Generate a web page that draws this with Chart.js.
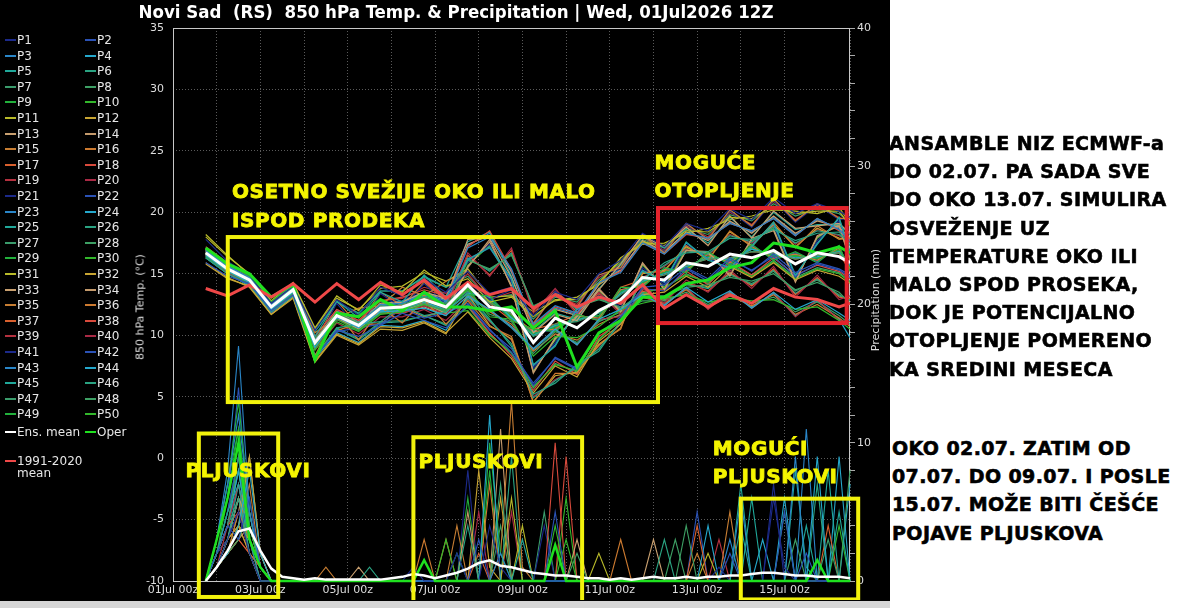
<!DOCTYPE html>
<html><head><meta charset="utf-8">
<script src="https://cdn.jsdelivr.net/npm/chart.js@4.4.1/dist/chart.umd.min.js"></script>
<style>
html,body{margin:0;padding:0;background:#fff;width:1200px;height:608px;overflow:hidden;}
#fig{position:absolute;left:0;top:0;width:890px;height:601px;background:#000;}
#c{position:absolute;left:0;top:0;}
#strip{position:absolute;left:0;top:601px;width:890px;height:7px;background:#d6d6d6;}
#title{position:absolute;left:456px;top:2px;transform:translateX(-50%);color:#fff;font-family:'DejaVu Sans Condensed','DejaVu Sans';font-weight:bold;font-size:18.5px;line-height:20px;white-space:pre;}
.lg{position:absolute;font-family:'DejaVu Sans';font-size:12px;color:#e6e6e6;white-space:nowrap;line-height:12px}
.sw{position:absolute;height:2px;width:11px}
.note{position:absolute;font-family:'DejaVu Sans';font-weight:bold;font-size:19px;letter-spacing:0.4px;-webkit-text-stroke:0.6px #000;color:#000;line-height:28.2px;white-space:nowrap}
.ax{position:absolute;color:#ddd;font-family:'DejaVu Sans';font-size:11px;white-space:nowrap;transform:translate(-50%,-50%) rotate(-90deg);}
</style></head>
<body>
<div id="fig"><canvas id="c" width="890" height="600"></canvas></div>
<div id="strip"></div>
<div id="title">Novi Sad  (RS)  850 hPa Temp. &amp; Precipitation | Wed, 01Jul2026 12Z</div>
<div class="ax" style="left:140px;top:307px">850 hPa Temp. (°C)</div>
<div class="ax" style="left:875px;top:300px">Precipitation (mm)</div>
<div id="legend"></div>
<div class="note" style="left:889px;top:129px">ANSAMBLE NIZ ECMWF-a<br>DO 02.07. PA SADA SVE<br>DO OKO 13.07. SIMULIRA<br>OSVEŽENJE UZ<br>TEMPERATURE OKO ILI<br>MALO SPOD PROSEKA,<br>DOK JE POTENCIJALNO<br>OTOPLJENJE POMERENO<br>KA SREDINI MESECA</div>
<div class="note" style="left:892px;top:434px">OKO 02.07. ZATIM OD<br>07.07. DO 09.07. I POSLE<br>15.07. MOŽE BITI ČEŠĆE<br>POJAVE PLJUSKOVA</div>
<script>
// ---- time grids (hours since 01Jul 00z) ----
const H12 = [18,30,42,54,66,78,90,102,114,126,138,150,162,174,186,198,210,222,234,246,258,270,282,294,306,318,330,342,354,366,372];
const H6 = [18,24,30,36,42,48,54,60,66,72, 78,84,90,96,102,108,114,120,126,132, 138,144,150,156,162,168,174,180,186,192, 198,204,210,216,222,228,234,240,246,252, 258,264,270,276,282,288,294,300,306,312, 318,324,330,336,342,348,354,360,366,372];

// ---- 850 hPa temperature (°C), 12-hourly ----
const ensMeanT = [16.7,15.4,14.5,12.3,13.7,9.4,11.6,10.8,12.2,12.3,12.9,12.3,14.1,12.3,12.0,9.4,11.4,10.6,12.0,12.9,14.7,14.5,15.9,15.6,16.6,16.3,16.9,15.8,16.7,16.4,15.9];
const operT = [17.1,15.8,15.0,13.1,14.1,8.0,11.8,11.5,12.9,12.0,13.5,12.3,12.3,12.0,12.3,10.6,12.0,7.4,10.2,11.2,13.1,13.1,14.2,14.5,15.5,15.9,17.5,17.2,16.7,17.2,16.7];
const climT = [13.8,13.2,14.1,13.1,14.2,12.7,14.2,12.9,14.3,13.3,14.5,13.0,14.3,13.3,13.8,12.2,13.3,12.3,13.1,12.6,14.1,12.2,13.3,12.3,13.3,12.6,13.8,13.1,12.9,12.3,12.6];

const P1  = [17.8,16.0,14.9,12.6,14.0,10.4,12.9,11.6,13.9,13.2,14.6,13.5,15.2,13.4,13.9,11.6,13.5,12.9,15.0,16.1,18.3,17.2,19.1,18.5,20.3,19.4,21.2,19.9,20.7,20.1,19.6];
const P2  = [15.9,14.8,14.2,12.0,13.3,8.2,10.4,9.9,10.8,11.8,11.2,10.6,12.5,10.4,8.9,5.9,8.2,7.3,10.1,11.5,13.9,14.1,15.5,14.6,16.3,15.2,16.6,15.1,15.9,15.4,14.9];
const P3  = [16.9,15.6,14.7,12.5,14.1,9.6,11.4,10.9,12.5,12.6,13.4,12.8,17.1,18.0,15.4,10.9,12.4,11.8,14.3,15.1,17.5,16.6,18.3,17.9,19.1,18.5,19.5,18.1,19.5,18.6,17.7];
const P4  = [16.5,15.2,14.3,12.1,13.5,9.0,11.5,10.6,11.9,12.0,12.2,11.6,13.2,12.1,10.7,8.9,10.5,9.2,11.3,12.1,13.3,12.4,13.9,12.7,13.6,12.2,13.5,12.1,12.9,11.8,11.2];
const P5  = [17.0,15.7,14.6,12.4,13.9,9.9,12.8,11.4,13.5,12.7,14.9,13.1,16.1,17.2,14.6,7.6,9.1,12.2,13.1,12.6,15.2,14.4,17.6,16.1,15.5,17.2,19.2,14.9,17.4,19.6,16.8];
const P6  = [16.3,15.0,14.1,11.9,13.2,8.1,10.6,10.9,11.1,12.4,11.6,11.9,13.4,11.3,9.1,5.2,6.1,7.6,8.7,11.2,14.5,15.9,16.7,16.8,17.9,17.8,18.6,17.7,18.3,18.4,17.3];
const P7  = [16.8,15.5,14.6,12.2,13.8,9.3,11.7,10.7,12.3,12.5,13.1,12.6,13.9,12.6,11.8,9.9,10.9,11.1,11.8,13.3,14.5,14.9,15.7,16.2,16.3,16.8,16.7,16.2,16.5,16.7,15.8];
const P8  = [16.6,15.3,14.4,12.3,13.6,9.5,11.8,11.0,12.4,12.1,12.6,11.9,16.1,15.4,16.5,12.4,13.2,12.3,12.9,12.3,13.2,13.2,13.9,14.1,14.7,14.4,15.0,13.7,14.3,13.5,12.6];
const P9  = [17.1,15.9,14.8,12.7,14.2,9.1,11.3,10.4,11.8,12.2,12.8,12.5,13.3,13.2,11.2,10.5,10.3,11.7,11.2,13.9,13.9,15.5,15.1,16.8,15.7,17.4,16.1,16.8,15.9,17.3,15.2];
const P10 = [16.4,15.2,14.2,12.1,13.4,8.8,11.1,10.3,11.7,11.9,12.5,12.0,13.8,11.5,11.3,8.3,9.9,9.8,10.7,12.1,12.6,13.0,13.3,12.7,13.0,12.8,12.9,12.1,12.3,11.2,10.5];
const P11 = [18.0,16.4,15.0,12.8,14.3,10.6,13.2,12.0,14.1,13.5,15.3,14.0,14.6,12.7,13.1,11.5,12.9,12.9,14.3,16.1,17.6,17.3,18.5,18.4,19.6,19.5,20.5,19.9,20.1,20.1,18.9];
const P12 = [15.8,14.6,14.0,11.7,13.1,7.9,10.1,9.3,10.7,10.6,11.1,10.2,11.9,9.8,8.1,5.3,7.5,6.6,9.5,10.9,13.3,13.5,14.8,13.9,15.6,14.7,15.9,14.5,15.3,14.8,14.2];
const P13 = [16.9,15.6,14.6,12.4,13.8,9.6,11.9,11.0,12.5,12.7,13.5,13.0,17.8,17.9,14.7,10.2,11.7,11.2,13.7,15.8,18.1,17.2,18.8,17.3,19.7,17.9,20.1,18.7,18.9,19.1,18.3];
const P14 = [16.7,15.4,14.4,12.2,13.6,9.2,11.4,10.5,11.9,12.0,12.6,11.8,15.5,17.8,13.9,6.9,9.8,11.5,13.8,11.9,15.9,13.7,16.9,16.8,14.8,17.9,18.5,14.3,18.1,18.9,16.1];
const P15 = [17.0,15.6,14.7,12.5,14.0,10.2,11.4,12.2,12.4,13.9,13.2,14.4,15.2,13.3,13.7,10.9,13.5,12.3,14.9,15.5,18.2,16.7,19.1,17.8,20.2,18.9,21.1,19.3,20.7,19.5,19.5];
const P16 = [16.6,15.3,14.3,12.0,13.4,8.3,11.9,9.6,12.3,11.0,12.9,10.9,12.8,10.7,9.9,4.5,6.9,6.9,9.3,10.5,15.1,15.2,17.3,16.1,18.5,17.2,19.2,17.1,18.9,17.8,17.9];
const P17 = [16.8,15.5,14.5,12.3,13.7,9.4,11.7,10.9,12.3,12.4,13.0,12.4,13.9,12.6,11.2,10.5,10.9,11.7,11.2,13.9,14.5,14.9,15.7,16.2,16.3,16.8,16.7,16.2,16.5,16.7,15.2];
const P18 = [17.2,15.9,14.8,12.6,14.1,9.9,12.1,11.2,12.8,13.1,13.7,13.2,17.2,18.5,15.3,10.8,12.3,11.8,14.3,15.2,17.5,16.6,18.2,17.9,19.1,18.5,19.5,18.1,19.5,18.5,17.7];
const P19 = [16.5,15.1,14.2,12.0,13.3,8.9,11.3,10.4,11.8,11.8,12.4,11.7,13.2,12.1,10.7,8.9,10.5,9.2,11.3,11.5,13.2,12.4,13.9,12.1,13.6,12.2,13.5,11.5,12.9,11.2,11.1];
const P20 = [16.9,15.6,14.6,12.4,13.9,9.5,11.8,10.8,12.2,12.3,13.0,12.2,16.7,14.8,17.1,11.8,13.8,11.7,13.5,11.7,13.8,12.6,14.5,13.5,15.3,13.8,15.6,13.1,14.9,12.9,13.2];
const P21 = [17.0,15.7,14.7,12.5,14.0,9.3,12.6,10.5,13.4,12.2,14.2,12.5,14.3,12.9,13.7,10.8,13.6,12.2,14.9,15.4,18.2,16.8,19.0,17.8,20.1,18.8,21.0,19.2,20.6,19.4,19.5];
const P22 = [16.4,15.0,14.1,11.8,13.2,8.4,10.3,10.6,10.9,12.2,11.4,11.8,12.6,10.5,8.6,6.1,8.1,7.2,10.2,11.1,13.8,13.6,15.4,14.4,16.1,15.3,16.4,14.8,15.8,15.3,14.7];
const P23 = [16.8,15.5,14.6,12.4,13.8,9.5,11.6,10.9,12.4,12.6,13.3,12.7,16.2,17.1,14.5,7.5,9.2,12.1,13.2,12.5,15.3,14.3,17.5,16.2,15.4,17.3,19.1,14.8,17.5,19.5,16.7];
const P24 = [16.6,15.2,14.3,12.1,13.5,9.1,11.4,10.6,12.0,12.1,12.7,12.0,13.4,13.1,11.4,10.0,10.8,11.2,11.8,13.4,14.4,15.0,15.6,16.3,16.2,17.0,16.6,16.3,16.4,16.8,15.7];
const P25 = [17.1,15.8,14.8,12.6,14.1,10.3,12.7,11.8,13.6,13.6,14.8,13.9,17.6,18.4,14.8,10.3,11.8,11.3,13.8,15.7,18.0,17.1,18.6,17.5,19.6,18.0,20.0,18.6,19.0,19.0,18.2];
const P26 = [16.3,15.0,14.1,11.9,13.2,8.2,10.5,9.6,11.0,11.1,11.6,10.8,13.0,11.2,9.3,4.9,6.3,7.4,8.9,11.0,14.6,15.7,16.9,16.6,18.1,17.6,18.8,17.5,18.5,18.2,17.5];
const P27 = [16.8,15.5,14.5,12.3,13.7,9.3,11.6,10.8,12.2,12.3,12.9,12.4,16.2,15.3,16.6,12.2,13.3,12.2,13.0,12.1,13.4,13.0,14.1,13.9,14.9,14.2,15.2,13.6,14.5,13.3,12.8];
const P28 = [16.7,15.3,14.4,12.2,13.6,9.2,11.5,10.7,12.1,12.2,12.8,12.2,13.6,11.7,11.1,8.5,10.3,9.4,11.1,11.9,12.8,12.8,13.5,12.5,13.4,12.6,13.1,11.9,12.7,11.6,10.9];
const P29 = [17.0,15.6,14.6,12.4,13.9,9.7,11.9,11.0,12.5,12.6,13.3,12.7,13.7,12.8,11.6,10.1,10.7,11.3,11.6,13.5,14.3,15.1,15.5,16.4,16.1,17.0,16.5,16.4,16.3,16.9,15.6];
const P30 = [16.5,15.2,14.3,12.1,13.4,9.0,11.3,10.4,11.8,11.9,12.5,11.8,12.0,10.0,8.6,5.8,7.6,7.1,9.6,11.3,13.4,13.9,14.9,14.3,15.7,14.8,16.0,14.6,15.4,15.0,14.3];
const P31 = [18.2,16.5,14.9,12.7,14.2,10.5,13.0,12.1,13.8,14.0,15.1,14.4,15.4,13.1,13.2,11.9,12.8,13.1,14.1,16.3,17.4,17.5,18.3,18.7,19.4,19.7,20.2,20.1,19.9,20.4,19.1];
const P32 = [15.9,14.7,13.9,11.7,13.0,7.8,10.0,9.2,10.5,10.4,11.0,10.1,13.3,10.8,9.7,4.6,6.7,7.0,9.2,10.6,15.0,15.3,17.2,16.2,18.4,17.3,19.0,17.2,18.7,17.9,17.8];
const P33 = [16.9,15.6,14.6,12.5,13.9,9.6,11.8,11.0,12.6,12.7,13.4,12.9,17.4,18.1,15.2,10.6,12.1,11.6,14.1,15.3,17.7,16.8,18.4,17.7,19.3,18.3,19.7,18.3,19.3,18.8,17.9];
const P34 = [16.6,15.3,14.3,12.1,13.5,9.1,11.3,10.5,11.8,11.8,12.3,11.6,15.6,17.6,14.0,7.0,9.7,11.6,13.7,12.0,15.8,13.8,16.9,16.7,14.9,17.8,18.6,14.4,18.0,19.0,16.2];
const P35 = [17.0,15.7,14.7,12.5,14.0,9.4,12.8,10.8,13.5,12.4,14.3,12.8,14.0,12.7,11.7,10.3,10.5,11.6,11.4,13.7,14.1,15.3,15.3,16.6,15.9,17.2,16.3,16.6,16.1,17.1,15.4];
const P36 = [16.4,15.1,14.2,12.0,13.3,8.4,10.4,10.9,10.9,12.3,11.5,12.0,13.4,11.9,10.9,8.7,10.1,9.6,10.9,11.7,13.1,12.6,13.7,12.3,13.2,12.4,13.3,11.7,12.5,11.4,10.7];
const P37 = [16.8,15.4,14.5,12.3,13.7,9.4,11.7,10.8,12.3,12.4,13.1,12.5,16.5,14.9,16.9,12.0,13.6,11.9,13.4,11.9,13.6,12.8,14.3,13.6,15.1,14.0,15.4,13.3,14.7,13.1,13.0];
const P38 = [16.7,15.3,14.4,12.2,13.6,9.3,11.5,10.6,12.0,12.1,12.6,12.0,12.4,10.2,8.3,5.5,7.9,6.8,9.9,11.1,13.7,13.7,15.2,14.1,16.0,14.9,16.3,14.9,15.7,15.2,14.6];
const P39 = [17.1,15.8,14.8,12.6,14.1,9.9,12.1,11.2,12.8,13.0,13.9,13.4,15.0,12.9,13.5,11.0,13.3,12.5,14.7,15.7,18.0,16.9,18.9,18.0,20.0,19.0,20.9,19.4,20.5,19.6,19.3];
const P40 = [16.5,15.1,14.2,11.9,13.3,8.8,11.0,10.1,11.5,11.5,12.1,11.2,12.9,11.1,9.6,5.0,6.4,7.3,9.1,10.9,14.7,15.6,17.0,16.5,18.2,17.5,18.9,17.4,18.6,18.1,17.6];
const P41 = [16.9,15.6,14.6,12.4,13.8,9.9,11.2,11.6,12.0,13.2,12.8,13.5,15.9,17.4,14.3,7.3,9.4,11.9,13.4,12.3,15.5,14.1,17.3,16.4,15.2,17.5,18.9,14.7,17.7,19.3,16.5];
const P42 = [16.6,15.2,14.3,12.1,13.5,9.1,11.4,10.5,11.9,12.0,12.5,11.9,13.5,13.0,11.3,10.3,10.4,11.6,11.3,13.7,14.0,15.4,15.2,16.7,15.8,17.3,16.2,16.7,16.0,17.2,15.3];
const P43 = [17.0,15.7,14.7,12.5,14.0,9.7,12.0,11.1,12.6,12.8,13.5,13.0,17.3,18.3,15.1,10.7,12.2,11.7,14.2,15.4,17.6,16.7,18.3,17.8,19.2,18.4,19.6,18.2,19.4,18.7,17.8];
const P44 = [16.3,15.0,14.0,11.8,13.1,8.1,10.2,9.4,10.8,10.7,11.2,10.4,13.1,12.0,10.6,8.8,10.4,9.3,11.2,11.6,13.2,12.5,13.8,12.2,13.5,12.3,13.4,11.6,12.8,11.3,9.8];
const P45 = [16.8,15.5,14.5,12.3,13.7,9.4,11.7,10.8,12.3,12.5,13.2,12.6,16.3,15.2,16.7,12.3,13.4,12.1,13.1,12.2,13.5,12.9,14.2,13.8,15.0,14.1,15.3,13.4,14.6,13.2,12.9];
const P46 = [16.7,15.4,14.4,12.2,13.6,9.2,11.5,10.6,12.0,12.1,12.7,12.1,13.8,12.8,11.4,10.2,10.7,11.3,11.6,13.5,14.3,15.1,15.5,16.4,16.1,17.0,16.5,16.4,16.3,16.9,15.6];
const P47 = [17.1,15.8,14.8,12.6,14.1,10.4,12.7,11.7,13.6,13.6,14.7,13.9,14.8,13.0,13.3,11.3,13.1,12.7,14.5,15.9,17.8,17.1,18.7,18.2,19.8,19.3,20.7,19.7,20.3,19.9,19.1];
const P48 = [16.4,15.1,14.2,12.0,13.3,8.3,10.6,9.7,11.1,11.2,11.6,10.9,12.3,10.1,8.5,5.7,7.7,7.0,9.7,11.2,13.5,13.8,15.0,14.2,15.8,14.9,16.1,14.7,15.5,15.1,14.4];
const P49 = [16.9,15.5,14.5,12.3,13.8,9.5,11.7,10.9,12.4,12.5,13.1,12.5,13.6,12.9,11.5,10.2,10.6,11.4,11.5,13.6,14.2,15.2,15.4,16.5,16.0,17.1,16.4,16.5,16.2,17.0,15.5];
const P50 = [16.6,15.3,14.4,12.2,13.5,9.1,11.4,10.6,12.0,12.1,12.7,12.0,15.7,17.3,14.1,7.1,9.6,11.7,13.6,12.1,15.7,13.9,17.1,16.6,15.0,17.7,18.7,14.5,17.9,19.1,16.3];
const memberT = [P1,P2,P3,P4,P5,P6,P7,P8,P9,P10,P11,P12,P13,P14,P15,P16,P17,P18,P19,P20,P21,P22,P23,P24,P25,P26,P27,P28,P29,P30,P31,P32,P33,P34,P35,P36,P37,P38,P39,P40,P41,P42,P43,P44,P45,P46,P47,P48,P49,P50];

// ---- 6-hourly precipitation (mm) ----
const ensMeanP = [0,1.0,2.2,3.6,3.8,2.2,0.9,0.3,0.2,0.1, 0.2,0.1,0.1,0.1,0.1,0.1,0.1,0.2,0.3,0.5, 0.4,0.2,0.4,0.6,0.9,1.3,1.5,1.1,1.0,0.8, 0.6,0.5,0.4,0.4,0.3,0.2,0.2,0.1,0.2,0.1, 0.2,0.3,0.2,0.2,0.3,0.2,0.3,0.3,0.4,0.4, 0.5,0.6,0.6,0.5,0.4,0.4,0.3,0.3,0.3,0.2];
const operP = [0,3,6,10,3,1,0,0,0,0, 0,0,0,0,0,0,0,0,0,0, 1.5,0,0,0,0,0,0,0,0,0, 0,0,2.6,0,0,0,0,0,0,0, 0,0,0,0,0,0,0,0,0,0, 0,0,0,0,0,0,1.5,0,0,0];
const R1  = [0,1,3,5,2,0,0,0,0,0, 0,0,0,0,0,0,0,0,0,1, 0,0,0,2,0,0,4,1,0,0, 0,0,0,0,0,0,0,0,0,0, 0,0,0,0,0,0,0,1,0,0, 0,0,6,1,0,0,0,0,0,0];
const R2  = [0,2,4,3,6,1,0,0,0,0, 0,0,0,0,0,0,0,0,0,0, 0,0,0,0,0,3,0,0,0,0, 0,0,5,0,0,0,0,0,0,0, 0,0,0,0,0,0,0,0,2,0, 0,0,0,0,0,2,0,0,0,0];
const R3  = [0,3,8,17,5,1,0,0,0,0, 0,0,0,0,0,0,0,0,0,0, 0,0,0,0,0,0,0,2,0,0, 0,0,0,0,0,0,0,0,0,0, 0,0,0,0,0,0,0,0,3,0, 0,0,0,0,9,0,0,0,0,0];
const R4  = [0,1,2,4,8,2,0,0,0,0, 0,0,0,0,0,0,0,0,0,0, 0,0,0,0,0,0,12,0,0,0, 0,0,0,0,0,0,0,0,0,0, 0,0,0,0,0,0,0,0,0,0, 0,3,0,0,0,0,9,0,0,0];
const R5  = [0,2,5,7,3,0,0,0,0,0, 0,0,0,0,0,0,0,0,0,0, 0,0,0,0,0,0,0,0,0,3, 0,0,0,0,0,0,0,0,0,0, 0,0,0,0,0,0,0,0,0,4, 0,0,0,0,8,1,0,0,5,0];
const R6  = [0,1,3,6,2,0,0,0,0,0, 0,0,0,0,0,1,0,0,0,0, 0,0,0,0,4,0,0,0,0,0, 0,0,0,0,0,0,0,0,0,0, 0,0,3,0,0,0,0,0,0,0, 0,0,0,0,0,0,7,0,0,0];
const R7  = [0,2,4,9,3,1,0,0,0,0, 0,0,0,0,0,0,0,0,0,0, 0,0,0,0,0,0,0,7,0,0, 0,0,0,0,0,0,0,0,0,0, 0,0,0,0,0,0,0,0,0,0, 0,0,0,0,0,0,0,3,0,0];
const R8  = [0,1,2,3,5,1,0,0,0,0, 0,0,0,0,0,0,0,0,0,0, 0,0,0,0,0,0,0,0,0,0, 0,0,0,0,2,0,0,0,0,0, 0,0,0,0,4,0,0,0,0,0, 0,0,0,0,0,0,0,0,0,8];
const R9  = [0,3,6,11,4,1,0,0,0,0, 0,0,0,0,0,0,0,0,0,0, 0,0,0,0,0,0,10,2,0,0, 0,0,0,0,0,0,0,0,0,0, 0,0,0,0,0,0,0,0,0,0, 0,0,0,0,0,0,0,0,0,0];
const R10 = [0,2,6,10,3,1,0,0,0,0, 0,0,0,0,0,0,0,0,0,0, 0,0,3,0,0,0,0,0,0,0, 0,0,0,3,0,0,0,0,0,0, 0,0,0,0,0,0,0,0,0,0, 0,0,0,0,0,0,0,0,4,0];
const R11 = [0,1,2,4,3,1,0,0,0,0, 0,0,0,0,0,0,0,0,0,0, 0,0,0,0,0,0,0,0,6,0, 0,0,0,0,0,0,2,0,0,0, 0,0,0,0,0,0,0,0,0,0, 0,0,0,0,0,0,0,0,0,0];
const R12 = [0,1,3,4,9,2,0,0,0,0, 0,0,0,0,0,0,0,0,0,0, 0,0,0,0,0,8,1,0,0,0, 0,0,0,0,0,0,0,0,0,0, 0,0,0,0,0,0,0,0,0,0, 0,0,0,0,0,0,0,0,0,0];
const R13 = [0,1,2,3,4,2,0,0,0,0, 0,0,0,0,1,0,0,0,0,0, 0,0,0,0,0,0,0,0,0,0, 0,0,0,0,0,0,0,0,0,0, 0,3,0,0,0,0,0,0,0,0, 0,0,0,0,0,0,0,0,0,0];
const R14 = [0,1,3,6,4,1,0,0,0,0, 0,0,0,0,0,0,0,0,0,0, 0,0,0,0,5,0,0,0,0,0, 0,0,0,0,0,0,0,0,0,0, 0,0,0,0,0,0,0,0,0,0, 0,0,0,0,0,0,0,0,0,0];
const R15 = [0,1,2,5,3,1,0,0,0,0, 0,1,0,0,0,0,0,0,0,0, 0,0,0,4,0,0,0,2,13,1, 0,0,0,0,0,0,0,0,0,0, 0,0,0,0,0,0,0,0,5,0, 0,0,0,0,0,0,0,0,0,0];
const R16 = [0,1,2,4,7,1,0,0,0,0, 0,0,0,0,0,0,0,0,0,0, 3,0,0,0,0,0,7,0,0,0, 0,0,0,0,0,0,0,0,0,0, 0,0,0,0,0,0,0,0,0,0, 0,0,0,0,0,0,0,0,0,0];
const R17 = [0,1,2,3,2,1,0,0,0,0, 0,0,0,0,0,0,0,0,0,0, 0,0,0,0,0,0,0,0,0,0, 0,0,0,0,0,0,0,0,0,0, 0,0,0,0,0,4,0,0,0,0, 0,0,0,0,0,0,0,0,0,0];
const R18 = [0,2,4,5,2,0,0,0,0,0, 0,0,0,0,0,0,0,0,0,0, 0,0,0,0,0,0,0,0,0,0, 0,0,10,0,0,0,0,0,0,0, 0,0,0,0,0,0,0,0,0,0, 0,0,0,0,0,0,0,0,0,0];
const R19 = [0,1,4,7,3,1,0,0,0,0, 0,0,0,0,0,0,0,0,0,0, 0,0,0,0,0,0,0,0,0,0, 0,0,0,0,0,0,0,0,0,0, 0,0,0,0,0,0,0,0,0,0, 0,0,0,0,0,0,0,0,0,0];
const R20 = [0,1,2,4,3,0,0,0,0,0, 0,0,0,0,0,0,0,0,0,0, 0,0,0,0,0,5,0,0,0,0, 0,0,0,0,0,0,0,0,0,0, 0,0,0,0,0,0,0,0,0,0, 0,0,0,0,0,0,0,0,0,0];
const R21 = [0,2,3,5,2,0,0,0,0,0, 0,0,0,0,0,0,0,0,0,0, 0,0,0,0,0,0,0,0,0,0, 0,4,0,0,0,0,0,0,0,0, 0,0,0,0,0,0,0,0,0,0, 0,0,7,0,0,0,0,0,0,0];
const R22 = [0,2,5,9,3,1,0,0,0,0, 0,0,0,0,0,0,0,0,0,0, 0,0,0,0,0,0,0,0,0,0, 0,0,0,0,0,0,0,0,0,0, 0,0,0,0,0,0,0,0,0,0, 0,0,0,5,0,0,0,0,0,0];
const R23 = [0,3,7,12,5,1,0,0,0,0, 0,0,0,0,0,0,0,0,0,0, 0,0,0,0,0,0,0,0,0,0, 0,0,0,0,0,0,0,0,0,0, 0,0,0,0,0,0,0,0,0,0, 0,0,0,0,0,11,0,0,0,0];
const R24 = [0,2,4,8,3,1,0,0,0,0, 0,0,0,0,0,0,0,0,0,0, 0,0,0,0,0,0,0,0,0,0, 0,0,0,0,0,0,0,0,0,0, 0,0,0,0,0,0,4,0,0,0, 0,0,0,6,0,0,0,0,0,7];
const R25 = [0,2,3,7,2,0,0,0,0,0, 0,0,0,0,0,0,0,0,0,0, 0,0,0,0,0,0,0,0,0,0, 0,0,0,0,0,0,0,0,0,0, 0,0,0,0,0,0,0,0,0,0, 6,0,0,0,0,0,0,8,0,0];
const R26 = [0,1,3,5,2,0,0,0,0,0, 0,0,0,0,0,0,0,0,0,0, 0,0,0,0,0,0,0,0,9,0, 0,0,0,0,0,0,0,0,0,0, 0,0,0,0,0,0,0,0,0,0, 0,0,0,0,0,0,0,0,0,0];
const R27 = [0,2,5,8,4,1,0,0,0,0, 0,0,0,0,0,0,0,0,0,0, 0,0,0,0,0,0,0,0,0,0, 0,5,0,0,0,0,0,0,0,0, 0,0,0,0,0,0,0,0,0,0, 0,0,0,0,0,0,0,0,0,0];
const R28 = [0,1,2,4,6,1,0,0,0,0, 0,0,0,0,0,0,0,0,0,0, 0,0,0,0,0,0,0,0,0,0, 0,0,0,0,0,0,0,0,0,0, 0,0,0,0,0,0,0,0,0,0, 0,0,0,0,3,0,0,0,0,0];
const R29 = [0,3,7,13,5,1,0,0,0,0, 0,0,0,0,0,0,0,0,0,0, 0,0,0,0,6,0,0,0,0,0, 0,0,0,0,0,0,0,0,0,0, 0,0,0,0,0,0,0,0,0,0, 0,0,0,0,0,0,0,0,0,0];
const R30 = [0,2,5,8,3,1,0,0,0,0, 0,0,0,0,0,0,0,0,0,0, 0,0,0,0,0,0,0,0,0,0, 0,0,4,0,0,0,0,0,0,0, 0,0,0,0,0,0,0,0,0,0, 0,0,0,0,0,0,0,0,0,0];
const R31 = [0,1,2,3,5,1,0,0,0,0, 0,0,0,0,0,0,0,0,0,0, 0,0,0,0,0,0,0,0,0,4, 0,0,0,0,0,0,0,0,0,0, 0,0,0,0,0,0,2,0,0,0, 0,0,0,0,0,0,0,0,0,0];
const R32 = [0,1,2,4,2,0,0,0,0,0, 0,0,0,0,0,0,0,0,0,0, 0,0,0,0,0,0,0,6,0,0, 0,0,0,0,0,0,0,0,0,0, 0,0,0,0,0,0,0,0,0,0, 0,0,0,0,0,0,0,0,0,0];
const R33 = [0,1,3,6,2,1,0,0,0,0, 0,0,0,0,0,0,0,0,0,0, 0,0,0,0,0,0,0,0,0,0, 0,0,0,0,3,0,0,0,0,0, 0,0,0,0,0,0,0,0,0,0, 0,0,0,0,0,0,0,0,0,0];
const R34 = [0,1,2,5,9,2,0,0,0,0, 0,0,0,0,0,0,0,0,0,0, 0,0,0,0,0,0,0,11,0,0, 0,0,0,0,0,0,0,0,0,0, 0,0,0,0,0,0,0,0,0,0, 0,0,0,0,0,0,0,0,0,0];
const R35 = [0,1,3,4,2,0,0,0,0,0, 0,0,0,0,0,0,0,0,0,0, 0,0,3,0,0,0,0,0,0,0, 0,0,0,0,0,0,0,0,0,0, 0,0,0,0,0,2,0,0,0,0, 0,0,0,0,0,0,0,0,0,0];
const R36 = [0,1,2,4,3,1,0,0,0,0, 0,0,0,0,0,0,0,0,0,0, 0,0,0,0,0,0,0,0,0,0, 0,0,0,0,0,0,0,0,3,0, 0,0,0,0,0,0,0,0,0,0, 0,0,0,0,0,0,0,0,0,0];
const R37 = [0,2,3,6,2,0,0,0,0,0, 0,0,0,0,0,0,0,0,0,0, 0,0,0,0,0,2,0,0,0,0, 0,0,0,0,0,0,0,0,0,0, 0,0,0,0,0,0,0,0,0,0, 0,0,0,0,0,0,0,4,0,0];
const R38 = [0,1,3,5,3,1,0,0,0,0, 0,0,0,0,0,0,0,0,0,0, 0,0,0,0,0,0,0,0,0,0, 0,0,0,9,0,0,0,0,0,0, 0,0,0,0,0,0,0,0,0,0, 0,0,0,0,0,0,0,0,0,0];
const R39 = [0,1,2,3,2,0,0,0,0,0, 0,0,0,0,0,0,0,0,0,0, 0,0,0,0,0,0,0,0,0,0, 0,0,0,0,0,0,0,0,0,0, 0,0,0,0,0,0,0,3,0,0, 0,0,0,0,0,0,0,0,0,0];
const R40 = [0,1,3,5,2,0,0,0,0,0, 0,0,0,0,0,0,0,0,0,0, 0,0,0,0,0,0,0,0,5,0, 0,0,0,0,0,0,0,0,0,0, 0,0,0,0,0,0,0,0,0,0, 0,0,0,0,0,0,0,0,0,0];
const R41 = [0,2,5,9,3,1,0,0,0,0, 0,0,0,0,0,0,0,0,0,0, 0,0,0,0,8,0,0,0,0,0, 0,0,0,0,0,0,0,0,0,0, 0,0,0,0,0,0,0,0,0,0, 0,0,0,0,0,0,0,0,0,0];
const R42 = [0,3,6,14,4,1,0,0,0,0, 0,0,0,0,0,0,0,0,0,0, 0,0,0,0,0,0,0,0,0,0, 0,0,0,0,0,0,0,0,0,0, 0,0,0,0,0,5,0,0,0,0, 0,0,0,0,0,0,0,0,0,0];
const R43 = [0,2,4,7,3,1,0,0,0,0, 0,0,0,0,0,0,0,0,0,0, 0,0,0,0,0,0,0,0,0,0, 0,0,0,0,0,0,0,0,0,0, 0,0,0,0,0,0,0,0,0,6, 0,0,0,0,0,0,0,0,0,0];
const R44 = [0,2,4,8,3,0,0,0,0,0, 0,0,0,0,0,0,0,0,0,0, 0,0,0,0,0,0,0,0,0,0, 0,0,0,0,0,0,0,0,0,0, 0,0,0,0,0,0,0,0,0,0, 0,0,0,0,0,0,0,0,9,0];
const R45 = [0,1,3,6,2,0,0,0,0,0, 0,0,0,0,0,0,0,0,0,0, 0,0,0,0,0,0,0,0,0,0, 0,0,0,0,0,0,0,0,0,0, 0,0,0,0,0,0,0,0,0,7, 0,0,0,0,0,4,0,0,0,0];
const R46 = [0,2,4,7,3,1,0,0,0,0, 0,0,0,0,0,0,0,0,0,0, 0,0,0,2,0,0,0,0,0,0, 0,0,0,0,0,0,0,0,0,0, 0,0,0,0,0,0,0,0,0,0, 0,0,0,5,0,0,0,0,0,0];
const R47 = [0,1,3,5,4,1,0,0,0,0, 0,0,0,0,0,0,0,0,0,0, 0,0,0,0,0,0,0,0,0,0, 0,0,0,0,0,0,0,0,0,0, 0,0,0,0,0,0,0,0,0,0, 0,0,0,0,0,0,0,0,0,0];
const R48 = [0,2,4,6,3,1,0,0,0,0, 0,0,0,0,0,0,0,0,0,0, 0,0,0,0,0,0,0,4,0,0, 0,0,0,0,0,0,0,0,0,0, 0,0,0,3,0,0,0,0,0,0, 0,0,0,0,0,0,0,0,0,0];
const R49 = [0,3,7,11,4,1,0,0,0,0, 0,0,0,0,0,0,0,0,0,0, 0,0,0,0,0,0,8,0,0,0, 0,0,0,0,0,0,0,0,0,0, 0,0,0,0,0,0,0,0,0,0, 0,0,0,0,0,0,0,0,0,0];
const R50 = [0,2,5,9,3,1,0,0,0,0, 0,0,0,0,0,0,0,0,0,0, 0,0,0,0,0,0,0,0,0,0, 0,0,0,6,0,0,0,0,0,0, 0,0,0,0,0,0,0,0,0,0, 0,0,0,0,0,0,0,0,0,0];
const memberP = [R1,R2,R3,R4,R5,R6,R7,R8,R9,R10,R11,R12,R13,R14,R15,R16,R17,R18,R19,R20,R21,R22,R23,R24,R25,R26,R27,R28,R29,R30,R31,R32,R33,R34,R35,R36,R37,R38,R39,R40,R41,R42,R43,R44,R45,R46,R47,R48,R49,R50];

const memberNames = memberT.map((_, i) => 'P' + (i + 1));
const tempTicks = [-10, -5, 0, 5, 10, 15, 20, 25, 30, 35];
const precipLabelTicks = [0, 10, 20, 30, 40];
const dayLabels = ['01Jul 00z','03Jul 00z','05Jul 00z','07Jul 00z','09Jul 00z','11Jul 00z','13Jul 00z','15Jul 00z'];

// ---- annotation overlays (data units: hours, °C) ----
const boxes = [
  {h0:30.1, h1:266.5, t0:17.99, t1:4.56, color:'#f2f20c'},
  {h0:266.5, h1:370.2, t0:20.35, t1:10.99, color:'#e3232c'},
  {h0:14.2, h1:57.8, t0:2.0, t1:-11.3, color:'#f2f20c'},
  {h0:132.1, h1:224.8, t0:1.7, t1:-11.9, color:'#f2f20c'},
  {h0:312.0, h1:376.5, t0:-3.3, t1:-11.5, color:'#f2f20c'}
];
const notes = [
  {h:32.4, t:21.57, text:'OSETNO SVEŽIJE OKO ILI MALO'},
  {h:32.4, t:19.21, text:'ISPOD PRODEKA'},
  {h:264.6, t:23.93, text:'MOGUĆE'},
  {h:264.6, t:21.65, text:'OTOPLJENJE'},
  {h:6.9, t:-1.13, text:'PLJUSKOVI'},
  {h:134.9, t:-0.4, text:'PLJUSKOVI'},
  {h:296.6, t:0.66, text:'MOGUĆI'},
  {h:296.6, t:-1.62, text:'PLJUSKOVI'}
];

// ---- styles ----
const palette = ['#1c2a8a','#2b52b5','#2a86c8','#25a8cc','#20a89a','#2aa382','#3a9c6c','#3da064','#22b13c','#33b82c',
                 '#b9bb2a','#c8a533','#c9a070','#c49a6c','#c77e33','#cc7a30','#d9602e','#d84a3c','#b4313f','#a92a45'];
const colMean = '#ffffff', colOper = '#1fe01f', colClim = '#ef4848';

const pts = (hours, vals) => vals.map((v, i) => ({x: hours[i], y: v}));

const datasets = [];
datasets.push({label:'Ens. mean', data:pts(H12, ensMeanT), borderColor:colMean, borderWidth:3, yAxisID:'y', order:1});
datasets.push({label:'1991-2020 mean', data:pts(H12, climT), borderColor:colClim, borderWidth:3, yAxisID:'y', order:2});
datasets.push({label:'Oper', data:pts(H12, operT), borderColor:colOper, borderWidth:3, yAxisID:'y', order:3});
datasets.push({label:'Ens. mean precip', data:pts(H6, ensMeanP), borderColor:colMean, borderWidth:2.5, yAxisID:'y2', order:4, clip:4});
datasets.push({label:'Oper precip', data:pts(H6, operP), borderColor:colOper, borderWidth:2.5, yAxisID:'y2', order:5, clip:4});
memberT.forEach((arr, i) => datasets.push({label:memberNames[i], data:pts(H12, arr), borderColor:palette[i % 20], borderWidth:1.2, yAxisID:'y', order:10}));
memberP.forEach((arr, i) => datasets.push({label:memberNames[i] + ' precip', data:pts(H6, arr), borderColor:palette[i % 20], borderWidth:1.1, yAxisID:'y2', order:20, clip:3}));

const overlay = {
  id:'overlay',
  beforeDatasetsDraw(chart){
    const {ctx, chartArea:a} = chart;
    ctx.save();
    ctx.strokeStyle = '#c8c8c8'; ctx.lineWidth = 1;
    ctx.strokeRect(a.left + 0.5, a.top + 0.5, a.right - a.left - 1, a.bottom - a.top);
    ctx.restore();
  },
  afterDraw(chart){
    const {ctx, scales:{x, y}} = chart;
    ctx.save();
    ctx.lineWidth = 4;
    boxes.forEach(b => {
      const x0 = x.getPixelForValue(b.h0), x1 = x.getPixelForValue(b.h1);
      const y0 = y.getPixelForValue(b.t0), y1 = y.getPixelForValue(b.t1);
      ctx.strokeStyle = b.color;
      ctx.strokeRect(x0, y0, x1 - x0, y1 - y0);
    });
    ctx.fillStyle = '#f4f400';
    ctx.strokeStyle = '#f4f400';
    ctx.lineWidth = 0.8;
    ctx.font = 'bold 20px "DejaVu Sans"';
    if ('letterSpacing' in ctx) ctx.letterSpacing = '0.6px';
    ctx.textBaseline = 'middle'; ctx.textAlign = 'left';
    notes.forEach(n => {
      const px = x.getPixelForValue(n.h), py = y.getPixelForValue(n.t);
      ctx.fillText(n.text, px, py);
      ctx.strokeText(n.text, px, py);
    });
    ctx.restore();
  }
};

Chart.defaults.font.family = 'DejaVu Sans';
Chart.defaults.font.size = 11;
Chart.defaults.color = '#dddddd';

new Chart(document.getElementById('c'), {
  type:'line',
  data:{datasets},
  options:{
    responsive:false, animation:false, events:[],
    layout:{padding:{top:28, left:0, right:0, bottom:0}},
    elements:{point:{radius:0}, line:{tension:0}},
    plugins:{legend:{display:false}, tooltip:{enabled:false}, title:{display:false}},
    scales:{
      x:{type:'linear', min:0, max:372,
         afterFit(s){ s.height = 19; },
         afterBuildTicks(s){ s.ticks = s.ticks.filter(t => t.value % 24 === 0 || t.value === 372); },
         ticks:{stepSize:24, autoSkip:false, maxRotation:0, padding:3, color:'#dddddd',
                callback(v){ return v % 48 === 0 ? dayLabels[v / 48] : ''; }},
         grid:{color:'#5a5a5a', drawTicks:false}, border:{display:false, dash:[1,2]}},
      y:{position:'left', min:-10, max:35,
         afterFit(s){ s.width = 173; },
         afterBuildTicks(s){ s.ticks = tempTicks.map(v => ({value:v})); },
         ticks:{padding:9, color:'#dddddd'},
         grid:{color:'#5a5a5a', drawTicks:false}, border:{display:false, dash:[1,2]}},
      y2:{position:'right', min:0, max:40,
         afterFit(s){ s.width = 40; },
         ticks:{stepSize:2, padding:2, autoSkip:false, color:'#dddddd',
                callback(v){ return precipLabelTicks.includes(v) ? v : ''; }},
         grid:{drawOnChartArea:false, tickLength:5, color:'#aaaaaa'}, border:{display:false}}
    }
  },
  plugins:[overlay]
});

// ---- HTML legend ----
const lg = document.getElementById('legend');
function item(x, cy, color, text){
  const s = document.createElement('div'); s.className = 'sw';
  s.style.left = x + 'px'; s.style.top = (cy - 1) + 'px'; s.style.background = color; lg.appendChild(s);
  const t = document.createElement('div'); t.className = 'lg';
  t.style.left = (x + 12) + 'px'; t.style.top = (cy - 6) + 'px'; t.innerHTML = text; lg.appendChild(t);
}
memberNames.forEach((n, i) => {
  const row = Math.floor(i / 2), col = i % 2;
  item(col ? 85 : 5, 40 + row * 15.6, palette[i % 20], n);
});
item(5, 432, colMean, 'Ens. mean');
item(85, 432, colOper, 'Oper');
item(5, 461, colClim, '1991-2020<br>mean');
</script>
</body></html>
